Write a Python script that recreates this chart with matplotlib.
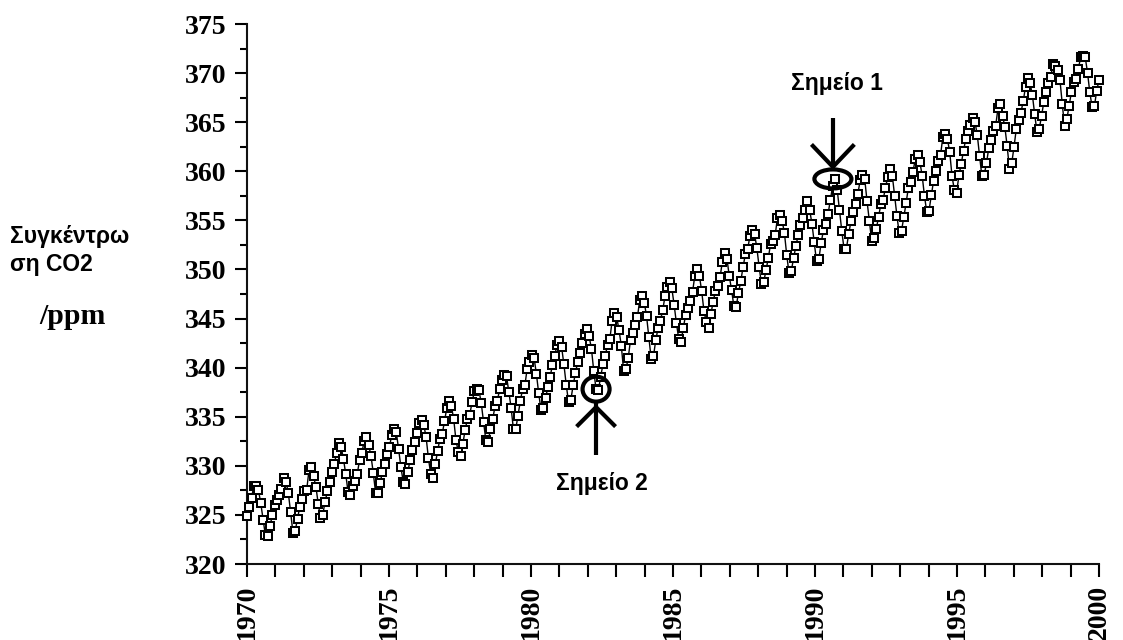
import numpy as np
import matplotlib
matplotlib.use("Agg")
import matplotlib.pyplot as plt
from matplotlib.transforms import Affine2D, ScaledTranslation
from matplotlib.patches import Ellipse
from matplotlib.ticker import MultipleLocator

# Monthly CO2 concentration (ppm), Jan 1970 - Dec 2000
co2_1970s = [
    324.89, 325.82, 326.77, 327.97, 327.91, 327.50, 326.18, 324.53, 322.93, 322.90, 323.85, 324.96,
    326.01, 326.51, 327.01, 327.62, 328.76, 328.40, 327.20, 325.27, 323.20, 323.40, 324.63, 325.85,
    326.60, 327.47, 327.58, 329.56, 329.90, 328.92, 327.88, 326.16, 324.68, 325.04, 326.34, 327.39,
    328.37, 329.40, 330.14, 331.33, 332.31, 331.90, 330.70, 329.15, 327.35, 327.02, 327.99, 328.48,
    329.18, 330.55, 331.32, 332.48, 332.92, 332.08, 331.01, 329.23, 327.27, 327.21, 328.29, 329.41,
    330.23, 331.25, 331.87, 333.14, 333.80, 333.43, 331.73, 329.90, 328.40, 328.17, 329.32, 330.59,
    331.58, 332.39, 333.33, 334.41, 334.71, 334.17, 332.89, 330.77, 329.14, 328.78, 330.14, 331.52,
    332.75, 333.24, 334.53, 335.90, 336.57, 336.10, 334.76, 332.59, 331.42, 330.98, 332.24, 333.68,
    334.80, 335.22, 336.47, 337.59, 337.84, 337.72, 336.37, 334.51, 332.60, 332.38, 333.75, 334.78,
    336.05, 336.59, 337.79, 338.71, 339.30, 339.12, 337.56, 335.92, 333.75, 333.70, 335.12, 336.56,
]
co2_1980s = [
    337.84, 338.19, 339.91, 340.60, 341.29, 341.00, 339.39, 337.43, 335.72, 335.84, 336.93, 338.04,
    339.06, 340.30, 341.21, 342.33, 342.74, 342.08, 340.32, 338.26, 336.52, 336.68, 338.19, 339.44,
    340.57, 341.44, 342.53, 343.39, 343.96, 343.18, 341.88, 339.65, 337.81, 337.69, 339.09, 340.32,
    341.20, 342.35, 342.93, 344.77, 345.58, 345.14, 343.81, 342.21, 339.69, 339.82, 340.98, 342.82,
    343.52, 344.33, 345.11, 346.88, 347.25, 346.62, 345.22, 343.11, 340.90, 341.18, 342.80, 344.04,
    344.79, 345.82, 347.25, 348.17, 348.74, 348.07, 346.38, 344.51, 342.92, 342.62, 344.06, 345.38,
    346.11, 346.78, 347.68, 349.37, 350.03, 349.37, 347.76, 345.73, 344.68, 343.99, 345.48, 346.72,
    347.84, 348.29, 349.23, 350.80, 351.66, 351.07, 349.33, 347.92, 346.27, 346.18, 347.64, 348.78,
    350.25, 351.54, 352.05, 353.41, 354.04, 353.62, 352.22, 350.27, 348.55, 348.72, 349.91, 351.18,
    352.60, 352.92, 353.53, 355.26, 355.52, 354.97, 353.75, 351.52, 349.64, 349.83, 351.14, 352.37,
]
co2_1990s = [
    353.50, 354.55, 355.23, 356.04, 357.00, 356.07, 354.67, 352.76, 350.82, 351.04, 352.69, 353.99,
    354.59, 355.63, 357.03, 358.48, 359.22, 358.12, 356.06, 353.92, 352.05, 352.11, 353.64, 354.89,
    355.88, 356.63, 357.72, 359.07, 359.58, 359.17, 356.94, 354.92, 352.94, 353.23, 354.09, 355.33,
    356.63, 357.10, 358.32, 359.41, 360.23, 359.55, 357.53, 355.48, 353.67, 353.95, 355.30, 356.78,
    358.34, 358.89, 359.95, 361.25, 361.67, 360.94, 359.55, 357.49, 355.84, 356.00, 357.59, 359.05,
    359.98, 361.03, 361.66, 363.48, 363.82, 363.30, 361.94, 359.50, 358.11, 357.80, 359.61, 360.74,
    362.09, 363.29, 364.06, 364.76, 365.45, 365.01, 363.70, 361.54, 359.51, 359.65, 360.80, 362.38,
    363.23, 364.06, 364.61, 366.40, 366.84, 365.68, 364.52, 362.57, 360.24, 360.83, 362.49, 364.34,
    365.18, 365.98, 367.13, 368.61, 369.49, 368.95, 367.74, 365.79, 364.01, 364.35, 365.66, 367.10,
    368.12, 368.98, 369.60, 370.96, 370.77, 370.33, 369.28, 366.86, 364.58, 365.32, 366.69, 368.09,
]
co2_2000 = [369.08, 369.40, 370.45, 371.59, 371.75, 371.62, 370.04, 368.04, 366.54, 366.63, 368.20, 369.29]

x_start, x_end = 1970, 2000
y_min, y_max = 320, 375
point1_label = "Σημείο 1"
point2_label = "Σημείο 2"
point1_index = 21 * 12 + 4   # May 1991
point2_index = 12 * 12 + 8   # Sep 1982

co2 = np.array(co2_1970s + co2_1980s + co2_1990s + co2_2000)
t = np.linspace(x_start, x_end, len(co2))

W, H = 1123, 640
fig = plt.figure(figsize=(W / 100, H / 100), dpi=100)
ax = fig.add_axes([247 / W, 76 / H, 852 / W, 540 / H])

ax.plot(t, co2, color="black", lw=1.0, marker="s", ms=5.6, mfc="white",
        mec="black", mew=1.45, clip_on=False, zorder=3)

ax.set_xlim(x_start, x_end)
ax.set_ylim(y_min, y_max)
for s in ["top", "right"]:
    ax.spines[s].set_visible(False)
for s in ["left", "bottom"]:
    ax.spines[s].set_linewidth(1.5)
    ax.spines[s].set_color("#111111")

ax.xaxis.set_major_locator(MultipleLocator(5))
ax.xaxis.set_minor_locator(MultipleLocator(1))
ax.yaxis.set_major_locator(MultipleLocator(5))
ax.yaxis.set_minor_locator(MultipleLocator(2.5))

tickfont = dict(family=["Liberation Serif", "DejaVu Serif"], weight="bold", size=20)
ax.tick_params(axis="y", which="major", length=8.6, width=1.5, pad=6.5, direction="out")
ax.tick_params(axis="y", which="minor", length=5, width=1.5, direction="out")
ax.tick_params(axis="x", which="both", length=9.4, width=1.5, pad=5.5, direction="out")
ax.set_yticks(ax.get_yticks())
ax.set_yticklabels([f"{v:.0f}" for v in ax.get_yticks()], fontdict=tickfont)
ax.set_xticks(ax.get_xticks())
ax.set_xticklabels([f"{v:.0f}" for v in ax.get_xticks()], fontdict=tickfont,
                   rotation=90, va="top", ha="center")
ax.set_xlim(x_start, x_end)
ax.set_ylim(y_min, y_max)

# y-axis title as free text
sans_b = dict(family=["Liberation Sans", "DejaVu Sans"], weight="bold", fontsize=16.5)
fig.text(10 / W, 1 - 237 / H, "Συγκέντρω", ha="left", va="center", **sans_b)
fig.text(10 / W, 1 - 264 / H, "ση CO2", ha="left", va="center", **sans_b)
fig.text(39 / W, 1 - 316 / H, "/ppm", ha="left", va="center",
         family=["Liberation Serif", "DejaVu Serif"], weight="bold", fontsize=21.5)

# annotations anchored at the data points, offsets in pixels (y downward)
def px_trans(i):
    return Affine2D().scale(1, -1) + ScaledTranslation(t[i], co2[i], ax.transData)

lw_ann = 3.0
# Point 1: ellipse around point, arrow from above
tr1 = px_trans(point1_index)
ax.add_patch(Ellipse((-2, 0), 37, 19, fill=False, lw=lw_ann, ec="black",
                     transform=tr1, clip_on=False, zorder=4))
ax.plot([-2, -2], [-61, -10], color="black", lw=lw_ann, transform=tr1, clip_on=False,
        solid_capstyle="butt", zorder=4)
ax.plot([-22, -2, 18], [-33, -12, -33], color="black", lw=lw_ann, transform=tr1,
        clip_on=False, zorder=4)
ax.text(2, -95, point1_label, transform=tr1, ha="center", va="center", **sans_b)

# Point 2: circle around point, arrow from below
tr2 = px_trans(point2_index)
ax.add_patch(Ellipse((0, 0), 27, 25, fill=False, lw=lw_ann, ec="black",
                     transform=tr2, clip_on=False, zorder=4))
ax.plot([0, 0], [66, 14], color="black", lw=lw_ann, transform=tr2, clip_on=False,
        solid_capstyle="butt", zorder=4)
ax.plot([-18, 0, 18], [36, 18, 36], color="black", lw=lw_ann, transform=tr2,
        clip_on=False, zorder=4)
ax.text(6, 94, point2_label, transform=tr2, ha="center", va="center", **sans_b)

fig.savefig("out.png", dpi=100, facecolor="white")
